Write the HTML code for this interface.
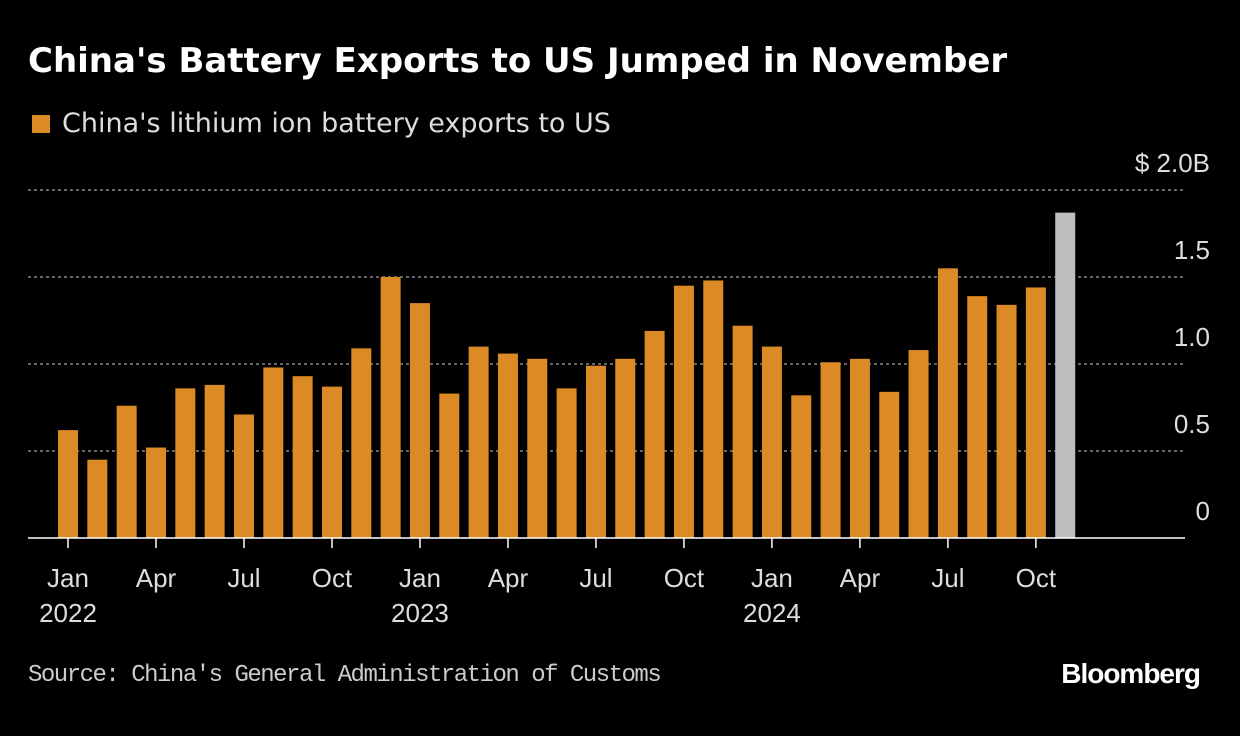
<!DOCTYPE html>
<html><head><meta charset="utf-8"><style>
html,body{margin:0;padding:0;background:#000;}
body{width:1240px;height:736px;overflow:hidden;font-family:"Liberation Sans",sans-serif;color:#fff;position:relative;}
.title{position:absolute;left:28px;top:41px;font-size:34px;font-weight:bold;font-family:"DejaVu Sans",sans-serif;}
.legend{position:absolute;left:32px;top:108px;font-size:27px;color:#ddd;display:flex;align-items:center;font-family:"DejaVu Sans",sans-serif;}
.legend span.sw{width:18px;height:18px;background:#db8a25;margin-right:12px;display:inline-block;}
.source{position:absolute;left:28px;top:662px;font-size:24px;color:#ccc;font-family:"Liberation Mono","DejaVu Sans Mono",monospace;letter-spacing:-1.5px;}
.logo{position:absolute;right:40px;top:658px;font-size:28px;font-weight:bold;letter-spacing:-1px;}
svg{position:absolute;left:0;top:0;}
</style></head><body>
<div class="title">China's Battery Exports to US Jumped in November</div>
<div class="legend"><span class="sw"></span>China's lithium ion battery exports to US</div>
<svg id="chart" width="1240" height="736"></svg>
<div class="source">Source: China's General Administration of Customs</div>
<div class="logo">Bloomberg</div>
<script>
const values = [0.62,0.45,0.76,0.52,0.86,0.88,0.71,0.98,0.93,0.87,1.09,1.50,1.35,0.83,1.10,1.06,1.03,0.86,0.99,1.03,1.19,1.45,1.48,1.22,1.10,0.82,1.01,1.03,0.84,1.08,1.55,1.39,1.34,1.44,1.87];
const yTicks = [0,0.5,1.0,1.5,2.0];
const yTickLabels = ["0","0.5","1.0","1.5","$ 2.0B"];
const monthLabels = ["Jan","Apr","Jul","Oct"];
const startYear = 2022;
const NS="http://www.w3.org/2000/svg";
const svg=document.getElementById('chart');
const y0=538, pxPer=174, x0=68, step=29.33, bw=20;
const yScale=v=>y0-v*pxPer;
const xScale=i=>x0+i*step;
function mk(tag,attrs){const e=document.createElementNS(NS,tag);for(const k in attrs)e.setAttribute(k,attrs[k]);svg.appendChild(e);return e;}
yTicks.forEach((t,i)=>{
  if(t>0){const l=mk('line',{x1:28,x2:1185,y1:yScale(t),y2:yScale(t),stroke:'#888','stroke-width':1.5,'stroke-dasharray':'3,3'});
  
  }
  const tx=mk('text',{x:1210,y:yScale(t)-18,'text-anchor':'end',fill:'#ddd','font-size':26,'font-family':'Liberation Sans, sans-serif'});
  tx.textContent=yTickLabels[i];
  
  
});
values.forEach((v,i)=>{
  const r=mk('rect',{x:xScale(i)-bw/2,y:yScale(v),width:bw,height:v*pxPer,fill:i===values.length-1?'#bdbdbd':'#db8a25'});
  
  
});
const base=mk('line',{x1:28,x2:1185,y1:y0,y2:y0,stroke:'#fff','stroke-width':1.5});


for(let i=0;i<values.length;i+=3){
  const x=xScale(i);
  const tk=mk('line',{x1:x,x2:x,y1:y0,y2:y0+10,stroke:'#fff','stroke-width':1.5});
  
  
  const t=mk('text',{x:x,y:587,'text-anchor':'middle',fill:'#ddd','font-size':26,'font-family':'Liberation Sans, sans-serif'});
  t.textContent=monthLabels[(i/3)%4];
  
  
  if(i%12===0){
    const yt=mk('text',{x:x,y:622,'text-anchor':'middle',fill:'#ddd','font-size':26,'font-family':'Liberation Sans, sans-serif'});
    yt.textContent=String(startYear+i/12);
    
    
  }
}
</script>
</body></html>
